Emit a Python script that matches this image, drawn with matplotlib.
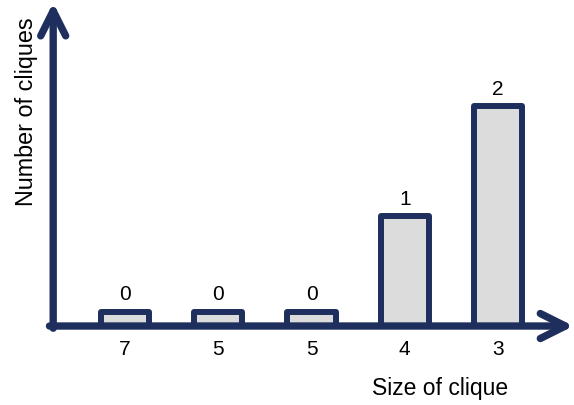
import matplotlib
matplotlib.use("Agg")
import matplotlib.pyplot as plt

# chart data
sizes = ["7", "5", "5", "4", "3"]
counts = [0, 0, 0, 1, 2]

navy = "#1e2f5d"
fill = "#dcdcdc"

plt.rcParams['font.family'] = ['Liberation Sans', 'DejaVu Sans']

fig = plt.figure(figsize=(5.74, 4.06), dpi=100)
ax = fig.add_axes([0, 0, 1, 1])
ax.set_axis_off()
# data units: bar spacing 1, one clique = 1
ax.set_xlim(-1.3405, 4.815)
ax.set_ylim(-0.718, 2.973)

x = list(range(len(counts)))
# zero bars are still drawn as a thin sliver
heights = [c if c > 0 else 0.13 for c in counts]
ax.bar(x, heights, width=0.52, color=fill, edgecolor=navy, linewidth=4.3,
       joinstyle='round', zorder=2)

for xi, h, c in zip(x, heights, counts):
    ax.annotate(str(c), (xi, h), xytext=(0, 9), textcoords='offset points',
                ha='center', va='baseline', fontsize=15, color='black')
    ax.text(xi, -0.2, sizes[xi], ha='center', va='center', fontsize=15,
            color='black')

arrow = dict(arrowstyle='->, head_length=18, head_width=9', color=navy,
             lw=5.3, mutation_scale=1, shrinkA=0, shrinkB=0,
             capstyle='round', joinstyle='round')
# x axis
ax.annotate('', xy=(4.81, 0), xytext=(-0.81, 0), arrowprops=arrow, zorder=3)
# y axis
ax.annotate('', xy=(-0.77, 2.94), xytext=(-0.77, -0.02), arrowprops=arrow,
            zorder=3)

ax.text(-1.06, 1.96, "Number of cliques", rotation=90, ha='center',
        va='center', fontsize=16.8)
ax.text(3.38, -0.56, "Size of clique", ha='center', va='center',
        fontsize=16.5)

fig.savefig("out.png", dpi=100)
